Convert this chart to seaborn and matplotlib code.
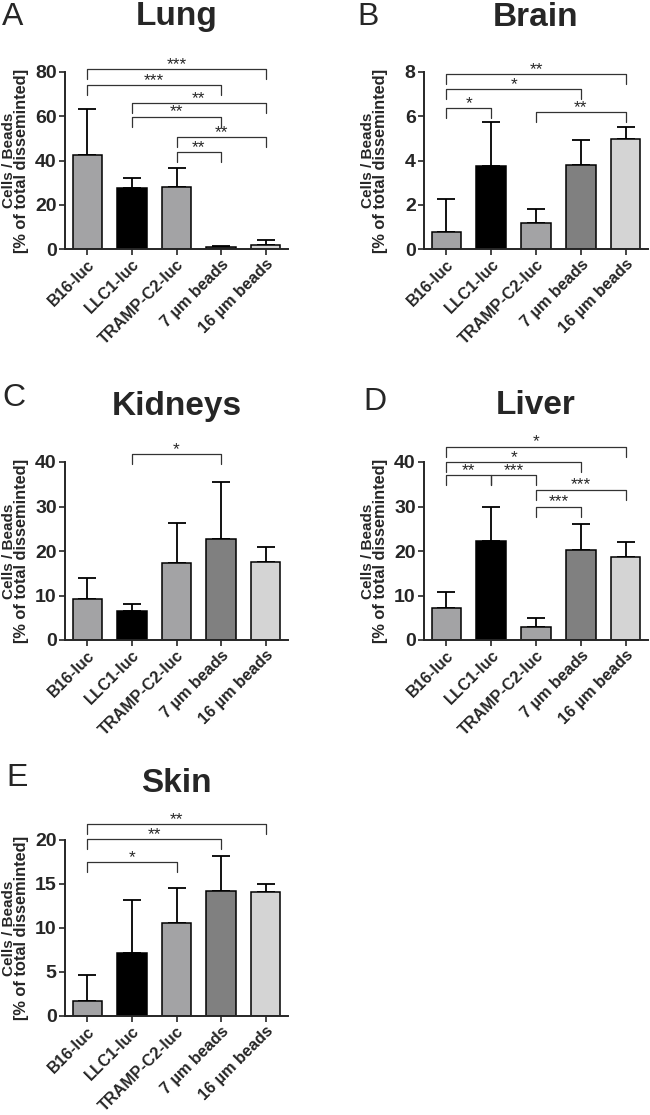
import matplotlib
matplotlib.use("Agg")
import matplotlib.pyplot as plt
import seaborn as sns
import numpy as np

sns.set_style("ticks")
plt.rcParams['font.family'] = ['Liberation Sans', 'DejaVu Sans']

# groups and bar colours
groups = ["B16-luc", "LLC1-luc", "TRAMP-C2-luc", "7 µm beads", "16 µm beads"]
bar_colors = ["#a2a2a6", "#000000", "#a2a2a6", "#808080", "#d4d4d4"]

# panel data: means and upper SD
lung_mean = [42.5, 27.6, 27.8, 0.8, 2.0]
lung_sd = [20.7, 4.4, 8.7, 0.4, 1.9]
brain_mean = [0.75, 3.73, 1.17, 3.78, 4.98]
brain_sd = [1.51, 2.01, 0.64, 1.16, 0.52]
kidney_mean = [9.2, 6.5, 17.2, 22.7, 17.6]
kidney_sd = [4.7, 1.7, 9.2, 12.8, 3.4]
liver_mean = [7.3, 22.3, 2.9, 20.2, 18.6]
liver_sd = [3.4, 7.6, 2.0, 5.9, 3.5]
skin_mean = [1.74, 7.2, 10.6, 14.2, 14.1]
skin_sd = [2.88, 6.0, 4.0, 4.0, 0.9]

# significance brackets: (from, to, height, label)
lung_sig = [(0, 4, 81.2, "***"), (0, 3, 74.0, "***"), (1, 4, 65.8, "**"),
            (1, 3, 59.8, "**"), (2, 4, 50.5, "**"), (2, 3, 43.7, "**")]
brain_sig = [(0, 4, 7.91, "**"), (0, 3, 7.23, "*"), (0, 1, 6.37, "*"), (2, 4, 6.19, "**")]
kidney_sig = [(1, 3, 41.7, "*")]
liver_sig = [(0, 4, 43.4, "*"), (0, 3, 40.0, "*"), (0, 1, 37.0, "**"), (1, 2, 37.0, "***"),
             (2, 4, 33.8, "***"), (2, 3, 29.9, "***")]
skin_sig = [(0, 4, 21.8, "**"), (0, 3, 20.1, "**"), (0, 2, 17.5, "*")]

W, H = 650, 1115
fig = plt.figure(figsize=(W / 100, H / 100), dpi=100)

# panel layout in pixels: letter, title, (left, top, right, bottom), letter pos, title y, ymax, ystep
panels = [
    ("A", "Lung", (65, 72, 288, 249), (13, 17), 17, 80, 20, lung_mean, lung_sd, lung_sig),
    ("B", "Brain", (424, 72, 648, 249), (368, 17), 17, 8, 2, brain_mean, brain_sd, brain_sig),
    ("C", "Kidneys", (65, 462, 288, 640), (14, 398), 407, 40, 10, kidney_mean, kidney_sd, kidney_sig),
    ("D", "Liver", (424, 462, 648, 640), (375, 402), 406, 40, 10, liver_mean, liver_sd, liver_sig),
    ("E", "Skin", (65, 840, 288, 1016), (17, 778), 783, 20, 5, skin_mean, skin_sd, skin_sig),
]

for letter, title, (l, t, r, b), (lx, ly), ty, ymax, ystep, mean, sd, sig in panels:
    ax = fig.add_axes([l / W, 1 - b / H, (r - l) / W, (b - t) / H])
    sns.barplot(x=groups, y=mean, hue=groups, palette=bar_colors, width=0.66,
                edgecolor="black", linewidth=1.1, errorbar=None, legend=False, ax=ax)
    x = np.arange(len(groups))
    ax.errorbar(x, mean, yerr=[np.zeros(len(sd)), sd], fmt="none", ecolor="black",
                elinewidth=1.3, capsize=6.5, capthick=1.3, zorder=0.5)
    ax.set_xlim(-0.5, 4.5)
    ax.set_ylim(0, ymax)
    ax.set_yticks(np.arange(0, ymax + ystep / 2, ystep))
    sns.despine(ax=ax)
    for sp in ["left", "bottom"]:
        ax.spines[sp].set_linewidth(1.4)
    ax.tick_params(axis="both", length=4, width=1.2, pad=2)
    ax.tick_params(axis="x", pad=1.5)
    ax.set_yticklabels([f"{v:g}" for v in ax.get_yticks()], fontsize=14, fontweight="bold")
    ax.set_xticks(x)
    ax.set_xticklabels(groups, rotation=45, ha="right", rotation_mode="anchor",
                       fontsize=11.7, fontweight="bold")
    ax.set_xlabel("")
    ax.set_ylabel("")
    # two-line y label
    aw = r - l
    ax.text(-56 / aw, 0.5, "Cells / Beads", transform=ax.transAxes, rotation=90,
            ha="center", va="center", fontsize=11, fontweight="bold")
    ax.text(-43 / aw, 0.5, "[% of total disseminted]", transform=ax.transAxes, rotation=90,
            ha="center", va="center", fontsize=11.8, fontweight="bold")

    # brackets
    drop = 0.056 * ymax
    for i, j, h, lab in sig:
        ax.plot([i, i, j, j], [h - drop, h, h, h - drop], color="#333333", lw=0.9,
                clip_on=False, zorder=3)
        ax.text((i + j) / 2, h - 0.015 * ymax, lab, ha="center", va="bottom",
                fontsize=12.5, clip_on=False)

    fig.text((l + r) / 2 / W, 1 - ty / H, title, ha="center", va="center",
             fontsize=24, fontweight="bold")
    fig.text(lx / W, 1 - ly / H, letter, ha="center", va="center", fontsize=23)

fig.savefig("out.png", dpi=100)
